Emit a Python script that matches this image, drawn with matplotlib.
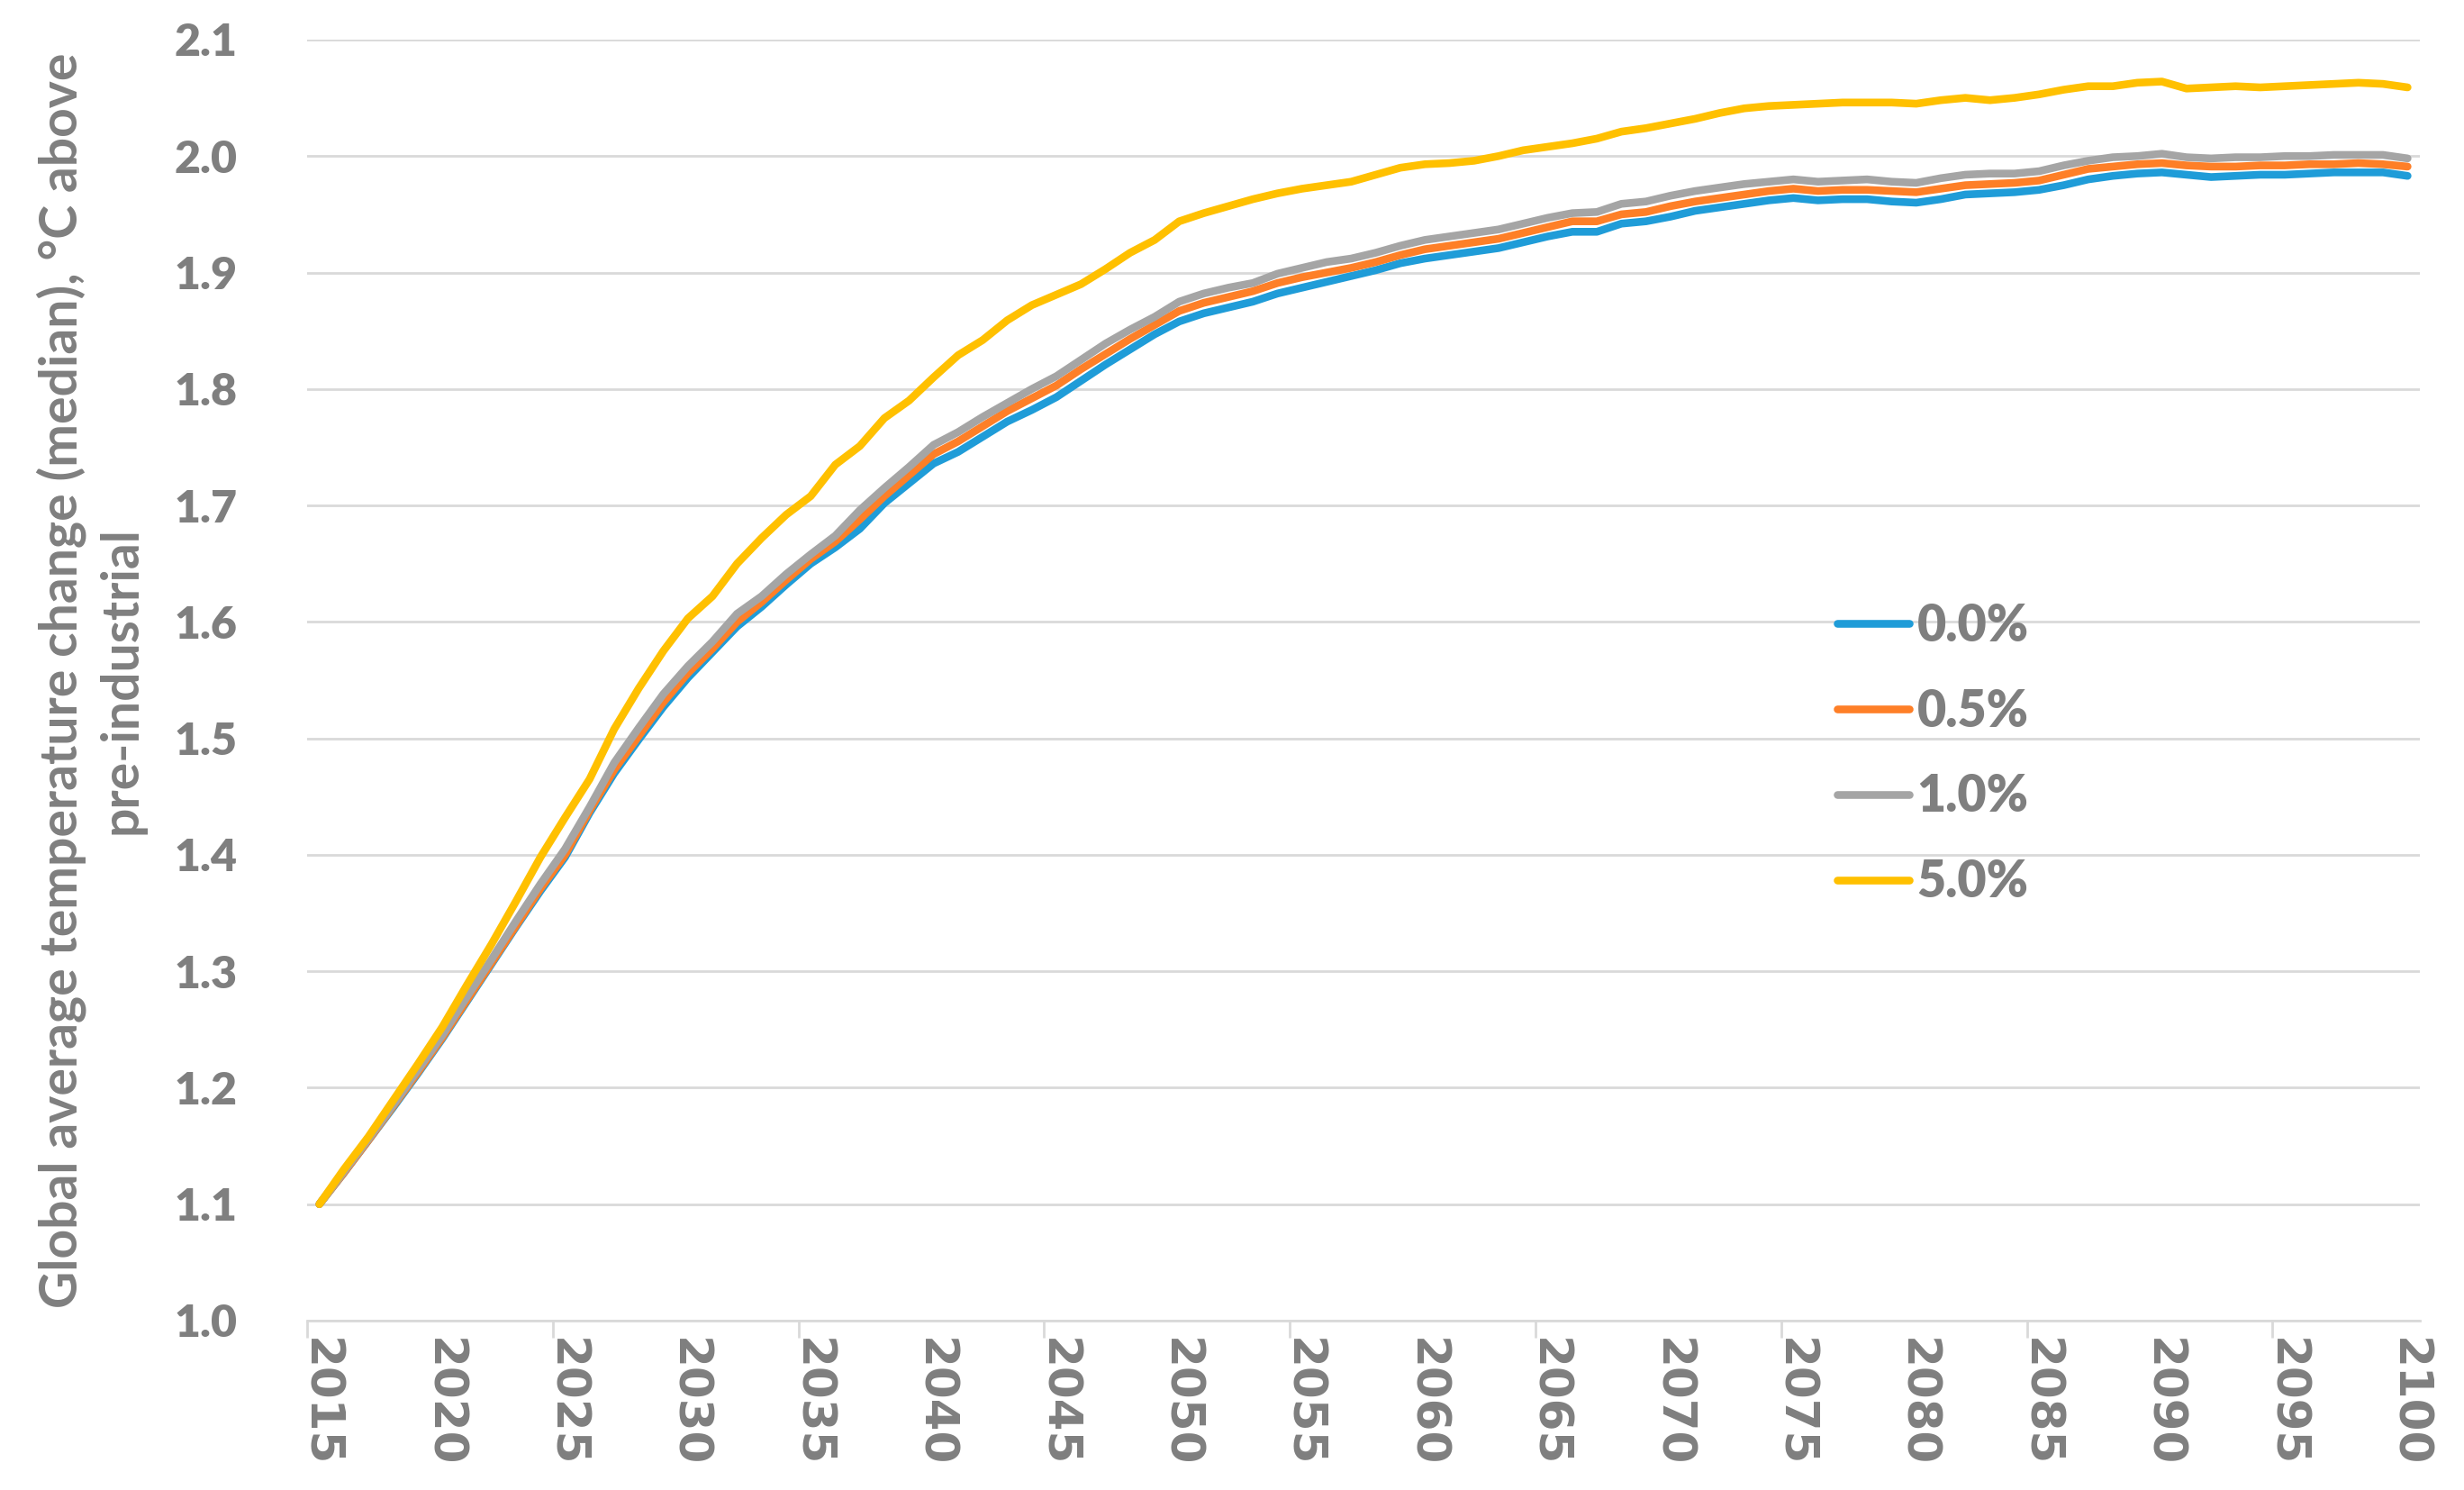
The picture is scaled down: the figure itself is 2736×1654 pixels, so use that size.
import matplotlib
matplotlib.use('Agg')
import matplotlib.pyplot as plt
from matplotlib.ticker import FixedLocator, NullFormatter

years = list(range(2015, 2101))

s_0_0 = [1.100, 1.127, 1.155, 1.183, 1.212, 1.242, 1.274, 1.306, 1.338, 1.369,
         1.398, 1.436, 1.470, 1.499, 1.527, 1.552, 1.574, 1.596, 1.613, 1.632,
         1.650, 1.664, 1.680, 1.702, 1.719, 1.736, 1.746, 1.759, 1.772, 1.782,
         1.793, 1.807, 1.821, 1.834, 1.847, 1.858, 1.865, 1.870, 1.875, 1.882,
         1.887, 1.892, 1.897, 1.902, 1.908, 1.912, 1.915, 1.918, 1.921, 1.926,
         1.931, 1.935, 1.935, 1.942, 1.944, 1.948, 1.953, 1.956, 1.959, 1.962,
         1.964, 1.962, 1.963, 1.963, 1.961, 1.960, 1.963, 1.967, 1.968, 1.969,
         1.971, 1.975, 1.980, 1.983, 1.985, 1.986, 1.984, 1.982, 1.983, 1.984,
         1.984, 1.985, 1.986, 1.986, 1.986, 1.983]

s_0_5 = [1.100, 1.127, 1.155, 1.184, 1.213, 1.243, 1.275, 1.307, 1.339, 1.371,
         1.400, 1.438, 1.473, 1.502, 1.531, 1.556, 1.577, 1.600, 1.617, 1.636,
         1.654, 1.669, 1.688, 1.708, 1.726, 1.744, 1.755, 1.768, 1.781, 1.792,
         1.803, 1.817, 1.830, 1.843, 1.855, 1.867, 1.874, 1.879, 1.884, 1.891,
         1.896, 1.900, 1.904, 1.909, 1.915, 1.920, 1.923, 1.926, 1.929, 1.934,
         1.939, 1.944, 1.944, 1.950, 1.952, 1.957, 1.961, 1.964, 1.967, 1.970,
         1.972, 1.970, 1.971, 1.971, 1.970, 1.969, 1.972, 1.975, 1.976, 1.977,
         1.979, 1.984, 1.989, 1.991, 1.993, 1.994, 1.992, 1.991, 1.991, 1.992,
         1.992, 1.993, 1.993, 1.994, 1.993, 1.991]

s_1_0 = [1.100, 1.128, 1.156, 1.185, 1.215, 1.245, 1.278, 1.310, 1.343, 1.375,
         1.405, 1.441, 1.479, 1.509, 1.538, 1.562, 1.583, 1.607, 1.622, 1.641,
         1.658, 1.674, 1.696, 1.715, 1.733, 1.752, 1.763, 1.776, 1.788, 1.800,
         1.811, 1.825, 1.839, 1.851, 1.862, 1.875, 1.882, 1.887, 1.891, 1.899,
         1.904, 1.909, 1.912, 1.917, 1.923, 1.928, 1.931, 1.934, 1.937, 1.942,
         1.947, 1.951, 1.952, 1.959, 1.961, 1.966, 1.970, 1.973, 1.976, 1.978,
         1.980, 1.978, 1.979, 1.980, 1.978, 1.977, 1.981, 1.984, 1.985, 1.985,
         1.987, 1.992, 1.996, 1.999, 2.000, 2.002, 1.999, 1.998, 1.999, 1.999,
         2.000, 2.000, 2.001, 2.001, 2.001, 1.998]

s_5_0 = [1.100, 1.130, 1.158, 1.189, 1.220, 1.252, 1.288, 1.323, 1.360, 1.398,
         1.432, 1.465, 1.508, 1.543, 1.575, 1.603, 1.622, 1.650, 1.672, 1.692,
         1.708, 1.735, 1.751, 1.775, 1.790, 1.810, 1.829, 1.842, 1.859, 1.872,
         1.881, 1.890, 1.903, 1.917, 1.928, 1.944, 1.951, 1.957, 1.963, 1.968,
         1.972, 1.975, 1.978, 1.984, 1.990, 1.993, 1.994, 1.996, 2.000, 2.005,
         2.008, 2.011, 2.015, 2.021, 2.024, 2.028, 2.032, 2.037, 2.041, 2.043,
         2.044, 2.045, 2.046, 2.046, 2.046, 2.045, 2.048, 2.050, 2.048, 2.050,
         2.053, 2.057, 2.060, 2.060, 2.063, 2.064, 2.058, 2.059, 2.060, 2.059,
         2.060, 2.061, 2.062, 2.063, 2.062, 2.059]

series_labels = ['0.0%', '0.5%', '1.0%', '5.0%']
series_values = [s_0_0, s_0_5, s_1_0, s_5_0]
series_colors = ['#1f9cd8', '#fe7f27', '#a5a5a5', '#ffc000']

y_ticks = [1.0, 1.1, 1.2, 1.3, 1.4, 1.5, 1.6, 1.7, 1.8, 1.9, 2.0, 2.1]
x_label_years = list(range(2015, 2101, 5))
x_tick_marks = [2014.5 + 10 * k for k in range(9)]

ylabel_text = 'Global average temperature change (median), \u00b0C above\npre-industrial'

TEXT = '#7f7f7f'
GRID = '#d9d9d9'

W, H = 2736, 1654
fig = plt.figure(figsize=(W / 200, H / 200), dpi=200)
ax = fig.add_axes([341 / W, 1 - 1466 / H, (2687 - 341) / W, (1466 - 44) / H])

for vals, lab, col in zip(series_values, series_labels, series_colors):
    ax.plot(years, vals, color=col, lw=3.1, label=lab,
            solid_capstyle='round', solid_joinstyle='round')

ax.set_xlim(2014.5, 2100.5)
ax.set_ylim(1.0, 2.1)

ax.set_yticks(y_ticks)
ax.set_yticklabels([f'{v:.1f}' for v in y_ticks])
ax.yaxis.grid(True, color=GRID, lw=1.0)
ax.set_axisbelow(True)

ax.set_xticks(x_label_years)
ax.set_xticklabels([str(y) for y in x_label_years], rotation=270)
ax.xaxis.set_minor_locator(FixedLocator(x_tick_marks))
ax.xaxis.set_minor_formatter(NullFormatter())
ax.tick_params(axis='x', which='major', length=0, pad=7, labelcolor=TEXT)
ax.tick_params(axis='x', which='minor', length=6.8, width=1.0, color=GRID,
               direction='out')
ax.tick_params(axis='y', which='both', length=0, pad=28, labelcolor=TEXT)

for lbl in ax.get_xticklabels():
    lbl.set_fontfamily('DejaVu Sans')
    lbl.set_fontweight('bold')
    lbl.set_fontsize(18.5)
    lbl.set_va('top')
    lbl.set_ha('center')
for lbl in ax.get_yticklabels():
    lbl.set_fontfamily(['Lato'])
    lbl.set_fontweight('heavy')
    lbl.set_fontsize(18)

for side in ['top', 'right', 'left']:
    ax.spines[side].set_visible(False)
ax.spines['bottom'].set_color(GRID)
ax.spines['bottom'].set_linewidth(1.0)

fig.text(101 / W, 1 - 755 / H, ylabel_text, rotation=90, ha='center',
         va='center', multialignment='center', color=TEXT, fontsize=20.5,
         fontweight='bold', family='Lato', linespacing=1.3)

leg = ax.legend(loc='upper left', bbox_to_anchor=(2012 / W, 1 - 641 / H),
                bbox_transform=fig.transFigure, frameon=False, borderpad=0,
                handlelength=1.45, handletextpad=0.15, labelspacing=0.77,
                prop={'family': 'Lato', 'weight': 'heavy', 'size': 20})
for t in leg.get_texts():
    t.set_color(TEXT)

fig.savefig('out.png', dpi=200, facecolor='white')
